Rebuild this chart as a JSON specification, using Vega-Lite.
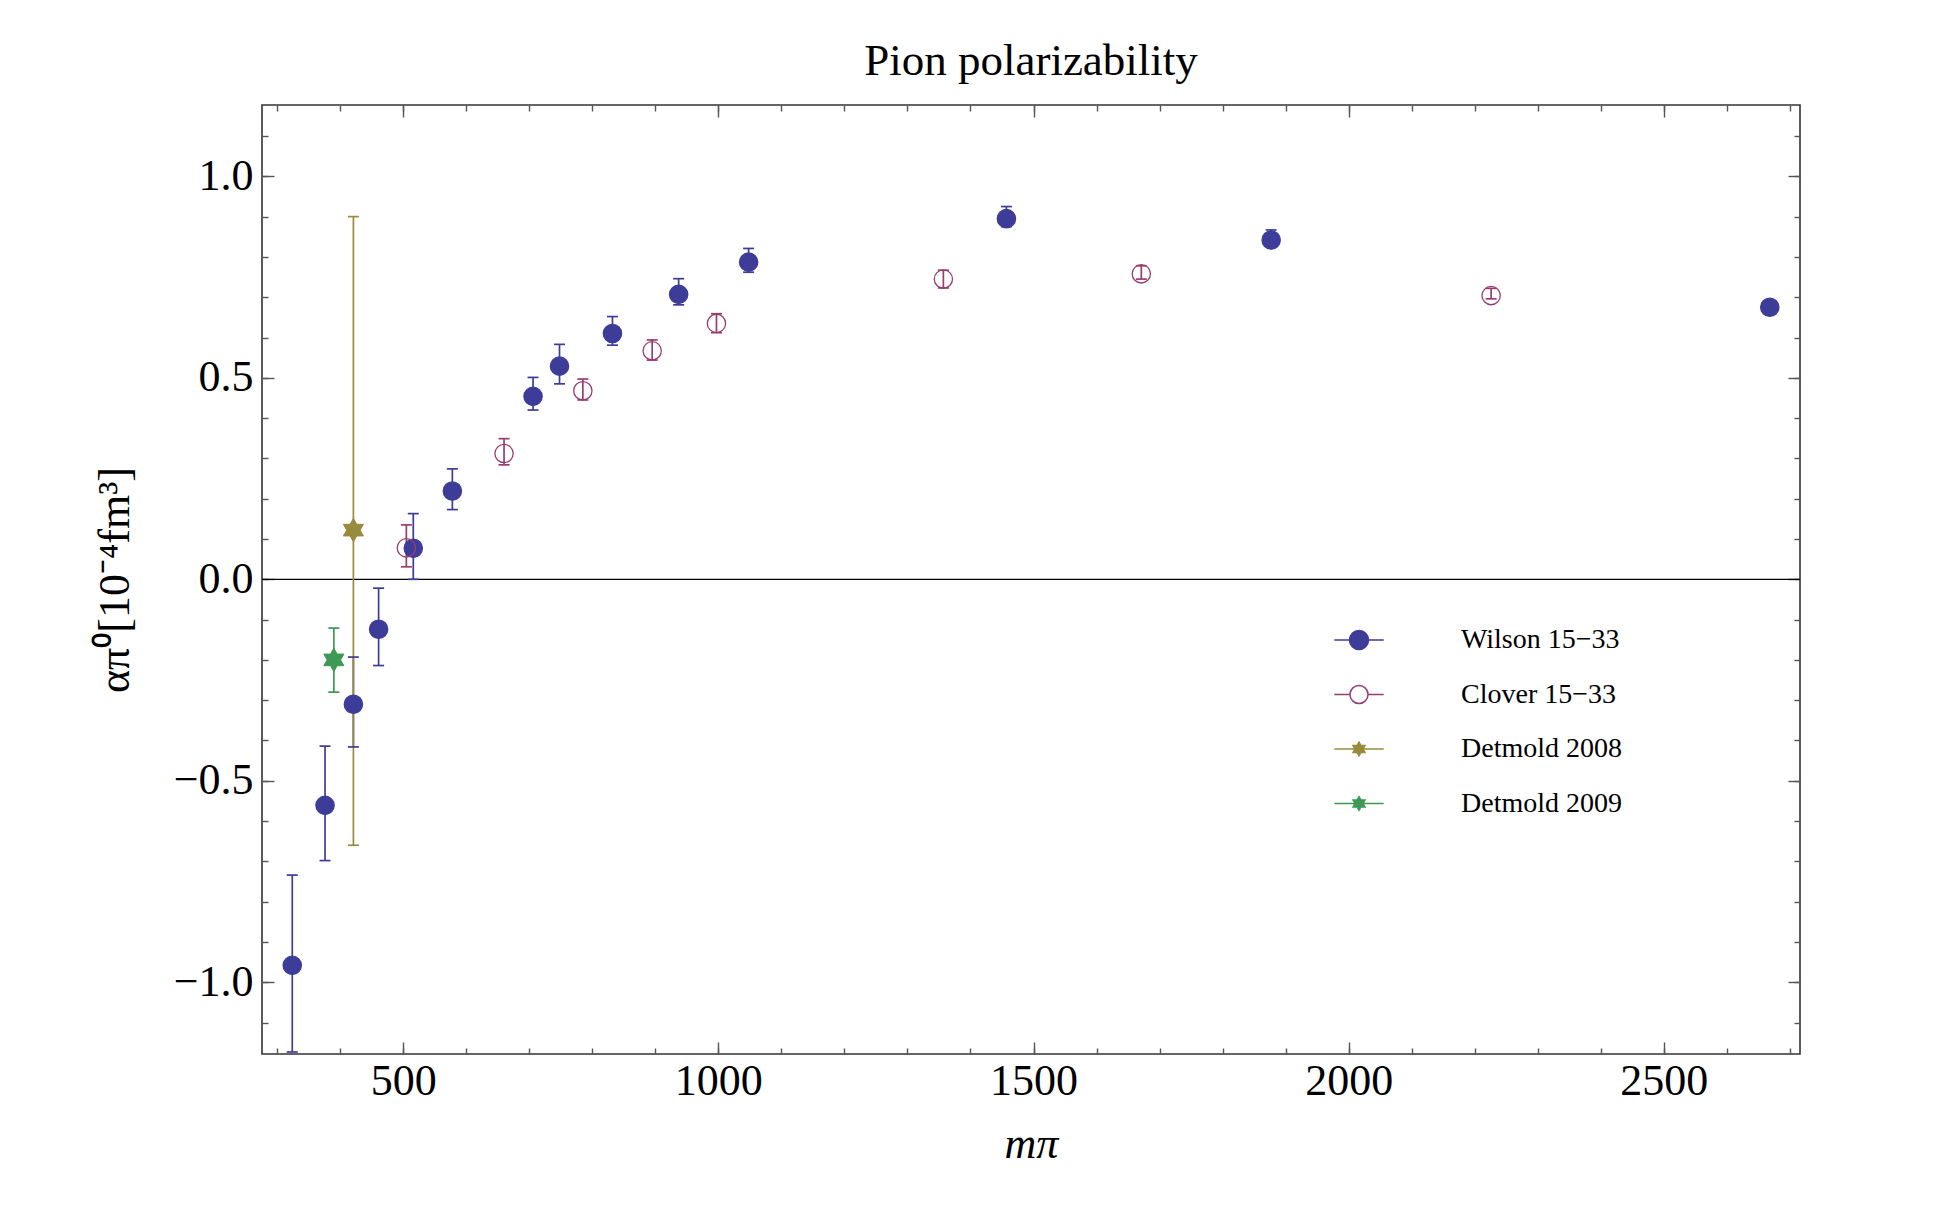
{
  "$schema": "https://vega.github.io/schema/vega-lite/v6.json",
  "width": 1538,
  "height": 949,
  "autosize": {"type": "none"},
  "padding": {"left": 262, "top": 105, "right": 135, "bottom": 175},
  "background": "white",
  "config": {
    "view": {"stroke": "#333333", "strokeWidth": 1.6},
    "font": "Liberation Serif",
    "axis": {"grid": false, "domain": false, "tickColor": "#555555", "tickWidth": 1.4, "labelFont": "Liberation Serif", "titleFont": "Liberation Serif"}
  },
  "title": {"text": "Pion polarizability", "font": "Liberation Serif", "fontSize": 45, "fontWeight": "normal", "color": "black", "offset": 20, "anchor": "middle"},
  "data": {"values": [
    {"series": "Wilson 15−33", "m": 324, "a": -0.958, "lo": -1.173, "hi": -0.734},
    {"series": "Wilson 15−33", "m": 376, "a": -0.561, "lo": -0.698, "hi": -0.414},
    {"series": "Wilson 15−33", "m": 421, "a": -0.310, "lo": -0.416, "hi": -0.193},
    {"series": "Wilson 15−33", "m": 461, "a": -0.124, "lo": -0.214, "hi": -0.022},
    {"series": "Wilson 15−33", "m": 516, "a": 0.077, "lo": 0.0, "hi": 0.163},
    {"series": "Wilson 15−33", "m": 578, "a": 0.219, "lo": 0.173, "hi": 0.274},
    {"series": "Wilson 15−33", "m": 706, "a": 0.454, "lo": 0.420, "hi": 0.501},
    {"series": "Wilson 15−33", "m": 748, "a": 0.529, "lo": 0.485, "hi": 0.583},
    {"series": "Wilson 15−33", "m": 832, "a": 0.610, "lo": 0.581, "hi": 0.652},
    {"series": "Wilson 15−33", "m": 937, "a": 0.707, "lo": 0.681, "hi": 0.746},
    {"series": "Wilson 15−33", "m": 1048, "a": 0.787, "lo": 0.762, "hi": 0.821},
    {"series": "Wilson 15−33", "m": 1457, "a": 0.895, "lo": 0.875, "hi": 0.925},
    {"series": "Wilson 15−33", "m": 1877, "a": 0.842, "lo": 0.825, "hi": 0.867},
    {"series": "Wilson 15−33", "m": 2668, "a": 0.675, "lo": 0.665, "hi": 0.685},
    {"series": "Clover 15−33", "m": 505, "a": 0.078, "lo": 0.031, "hi": 0.135},
    {"series": "Clover 15−33", "m": 660, "a": 0.312, "lo": 0.284, "hi": 0.349},
    {"series": "Clover 15−33", "m": 785, "a": 0.468, "lo": 0.445, "hi": 0.497},
    {"series": "Clover 15−33", "m": 895, "a": 0.567, "lo": 0.544, "hi": 0.594},
    {"series": "Clover 15−33", "m": 997, "a": 0.635, "lo": 0.612, "hi": 0.659},
    {"series": "Clover 15−33", "m": 1357, "a": 0.745, "lo": 0.723, "hi": 0.767},
    {"series": "Clover 15−33", "m": 1671, "a": 0.758, "lo": 0.745, "hi": 0.778},
    {"series": "Clover 15−33", "m": 2226, "a": 0.704, "lo": 0.696, "hi": 0.722},
    {"series": "Detmold 2008", "m": 421, "a": 0.122, "lo": -0.66, "hi": 0.90},
    {"series": "Detmold 2009", "m": 390, "a": -0.200, "lo": -0.280, "hi": -0.121}
  ]},
  "layer": [
    {
      "data": {"values": [{"zero": 0}]},
      "mark": {"type": "rule", "color": "black", "strokeWidth": 1.3},
      "encoding": {
        "y": {"field": "zero", "type": "quantitative", "scale": {"domain": [-1.178, 1.177], "nice": false, "zero": false}, "axis": null}
      }
    },
    {
      "mark": {"type": "rule", "strokeWidth": 1.7, "opacity": 1},
      "encoding": {
        "x": {"field": "m", "type": "quantitative", "scale": {"domain": [276, 2716], "nice": false, "zero": false},
              "axis": {"orient": "bottom", "values": [300,400,500,600,700,800,900,1000,1100,1200,1300,1400,1500,1600,1700,1800,1900,2000,2100,2200,2300,2400,2500,2600,2700], "labels": false, "tickSize": -6, "title": null}},
        "y": {"field": "lo", "type": "quantitative", "scale": {"domain": [-1.178, 1.177], "nice": false, "zero": false},
              "axis": {"orient": "left", "values": [-1.1,-1.0,-0.9,-0.8,-0.7,-0.6,-0.5,-0.4,-0.3,-0.2,-0.1,0,0.1,0.2,0.3,0.4,0.5,0.6,0.7,0.8,0.9,1.0,1.1], "labels": false, "tickSize": -6, "title": null}},
        "y2": {"field": "hi"},
        "stroke": {"field": "series", "type": "nominal", "scale": {"domain": ["Wilson 15−33", "Clover 15−33", "Detmold 2008", "Detmold 2009"], "range": ["#3D3D99", "#993D71", "#998B3D", "#3D9954"]}}
      }
    },
    {
      "mark": {"type": "rule", "strokeWidth": 1.7, "opacity": 1, "xOffset": -5.5, "x2Offset": 5.5},
      "encoding": {
        "x": {"field": "m", "type": "quantitative", "scale": {"domain": [276, 2716], "nice": false, "zero": false},
              "axis": {"orient": "top", "values": [500,1000,1500,2000,2500], "labels": false, "tickSize": -12, "title": null}},
        "x2": {"field": "m"},
        "y": {"field": "lo", "type": "quantitative", "scale": {"domain": [-1.178, 1.177], "nice": false, "zero": false},
              "axis": {"orient": "right", "values": [-1.0,-0.5,0,0.5,1.0], "labels": false, "tickSize": -12, "title": null}},
        "y2": {"field": "lo"},
        "stroke": {"field": "series", "type": "nominal", "scale": {"domain": ["Wilson 15−33", "Clover 15−33", "Detmold 2008", "Detmold 2009"], "range": ["#3D3D99", "#993D71", "#998B3D", "#3D9954"]}}
      }
    },
    {
      "mark": {"type": "rule", "strokeWidth": 1.7, "opacity": 1, "xOffset": -5.5, "x2Offset": 5.5},
      "encoding": {
        "x": {"field": "m", "type": "quantitative", "scale": {"domain": [276, 2716], "nice": false, "zero": false},
              "axis": {"orient": "top", "values": [300,400,500,600,700,800,900,1000,1100,1200,1300,1400,1500,1600,1700,1800,1900,2000,2100,2200,2300,2400,2500,2600,2700], "labels": false, "tickSize": -6, "title": null}},
        "x2": {"field": "m"},
        "y": {"field": "hi", "type": "quantitative", "scale": {"domain": [-1.178, 1.177], "nice": false, "zero": false},
              "axis": {"orient": "right", "values": [-1.1,-1.0,-0.9,-0.8,-0.7,-0.6,-0.5,-0.4,-0.3,-0.2,-0.1,0,0.1,0.2,0.3,0.4,0.5,0.6,0.7,0.8,0.9,1.0,1.1], "labels": false, "tickSize": -6, "title": null}},
        "y2": {"field": "hi"},
        "stroke": {"field": "series", "type": "nominal", "scale": {"domain": ["Wilson 15−33", "Clover 15−33", "Detmold 2008", "Detmold 2009"], "range": ["#3D3D99", "#993D71", "#998B3D", "#3D9954"]}}
      }
    },
    {
      "transform": [{"filter": "indexof(datum.series, 'Detmold') < 0"}],
      "mark": {"type": "point", "opacity": 1, "size": 335, "strokeWidth": 1.3},
      "encoding": {
        "x": {"field": "m", "type": "quantitative", "scale": {"domain": [276, 2716], "nice": false, "zero": false},
              "axis": {"orient": "bottom", "values": [500,1000,1500,2000,2500], "format": "d", "tickSize": -12, "labelPadding": 17, "labelFontSize": 44, "labelColor": "black",
                       "title": "mπ", "titleFontSize": 44, "titleFontStyle": "italic", "titleFontWeight": "normal", "titleColor": "black", "titlePadding": 19}},
        "y": {"field": "a", "type": "quantitative", "scale": {"domain": [-1.178, 1.177], "nice": false, "zero": false},
              "axis": {"orient": "left", "values": [-1.0,-0.5,0,0.5,1.0], "format": ".1f", "tickSize": -12, "labelPadding": 21, "labelFontSize": 44, "labelColor": "black",
                       "title": "απ⁰[10⁻⁴fm³]", "titleFontSize": 44, "titleFontWeight": "normal", "titleColor": "black", "titlePadding": 36}},
        "stroke": {"field": "series", "type": "nominal", "scale": {"domain": ["Wilson 15−33", "Clover 15−33", "Detmold 2008", "Detmold 2009"], "range": ["#3D3D99", "#993D71", "#998B3D", "#3D9954"]}},
        "fill": {"field": "series", "type": "nominal", "scale": {"domain": ["Wilson 15−33", "Clover 15−33", "Detmold 2008", "Detmold 2009"], "range": ["#3D3D99", "transparent", "#998B3D", "#3D9954"]}}
      }
    },
    {
      "transform": [{"filter": "indexof(datum.series, 'Detmold') >= 0"}],
      "mark": {"type": "point", "opacity": 1, "size": 540, "strokeWidth": 1, "shape": "M0,-1L0.289,-0.5L0.866,-0.5L0.577,0L0.866,0.5L0.289,0.5L0,1L-0.289,0.5L-0.866,0.5L-0.577,0L-0.866,-0.5L-0.289,-0.5Z"},
      "encoding": {
        "x": {"field": "m", "type": "quantitative", "scale": {"domain": [276, 2716], "nice": false, "zero": false}, "axis": null},
        "y": {"field": "a", "type": "quantitative", "scale": {"domain": [-1.178, 1.177], "nice": false, "zero": false}, "axis": null},
        "stroke": {"field": "series", "type": "nominal", "scale": {"domain": ["Wilson 15−33", "Clover 15−33", "Detmold 2008", "Detmold 2009"], "range": ["#3D3D99", "#993D71", "#998B3D", "#3D9954"]}},
        "fill": {"field": "series", "type": "nominal", "scale": {"domain": ["Wilson 15−33", "Clover 15−33", "Detmold 2008", "Detmold 2009"], "range": ["#3D3D99", "transparent", "#998B3D", "#3D9954"]}}
      }
    },
    {
      "transform": [{"filter": "false"}],
      "mark": {"type": "point", "opacity": 1, "strokeWidth": 1.5, "filled": true},
      "encoding": {
        "shape": {"field": "series", "type": "nominal",
                  "scale": {"domain": ["Wilson 15−33", "Clover 15−33", "Detmold 2008", "Detmold 2009"],
                            "range": ["M-2.6,0H2.6M1,0A1,1,0,1,1,-1,0A1,1,0,1,1,1,0Z",
                                      "M-2.6,0H-0.95M0.95,0H2.6M0.95,0A0.95,0.95,0,1,1,-0.95,0A0.95,0.95,0,1,1,0.95,0Z",
                                      "M-2.6,0H2.6M0,-0.72L0.208,-0.36L0.624,-0.36L0.415,0L0.624,0.36L0.208,0.36L0,0.72L-0.208,0.36L-0.624,0.36L-0.415,0L-0.624,-0.36L-0.208,-0.36Z",
                                      "M-2.6,0H2.6M0,-0.72L0.208,-0.36L0.624,-0.36L0.415,0L0.624,0.36L0.208,0.36L0,0.72L-0.208,0.36L-0.624,0.36L-0.415,0L-0.624,-0.36L-0.208,-0.36Z"]},
                  "legend": {"orient": "none", "legendX": 1083, "legendY": 521, "title": null, "padding": 0, "labelFont": "Liberation Serif", "labelFontSize": 28, "labelColor": "black", "labelLimit": 400, "labelOffset": 88, "rowPadding": 26.5, "symbolSize": 361, "symbolStrokeWidth": 1.5, "symbolOpacity": 1}},
        "stroke": {"field": "series", "type": "nominal", "scale": {"domain": ["Wilson 15−33", "Clover 15−33", "Detmold 2008", "Detmold 2009"], "range": ["#3D3D99", "#993D71", "#998B3D", "#3D9954"]}},
        "fill": {"field": "series", "type": "nominal", "scale": {"domain": ["Wilson 15−33", "Clover 15−33", "Detmold 2008", "Detmold 2009"], "range": ["#3D3D99", "transparent", "#998B3D", "#3D9954"]}}
      }
    }
  ],
  "resolve": {"axis": {"x": "independent", "y": "independent"}}
}
